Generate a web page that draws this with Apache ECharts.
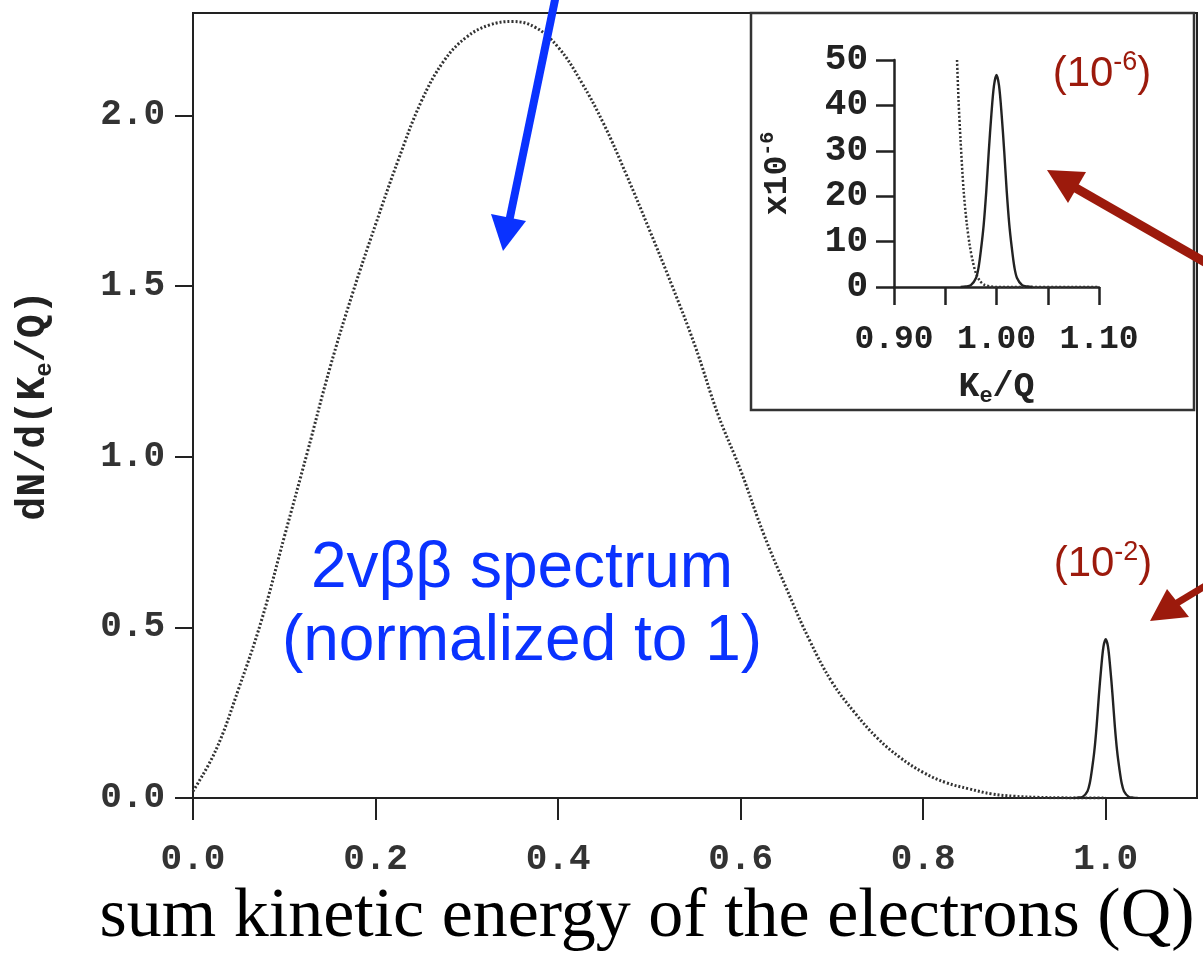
<!DOCTYPE html>
<html>
<head>
<meta charset="utf-8">
<script src="https://cdn.jsdelivr.net/npm/echarts@6/dist/echarts.min.js"></script>
<style>
html,body{margin:0;padding:0;background:#fff;}
#chart{width:1203px;height:953px;}
</style>
</head>
<body>
<div id="chart"></div>
<script>
// ---- data ----
const xTicks = [0, 0.2, 0.4, 0.6, 0.8, 1.0];
const yTicks = [0, 0.5, 1.0, 1.5, 2.0];
const insetXTicks = [0.90, 0.95, 1.00, 1.05, 1.10];
const insetXLabels = [0.90, 1.00, 1.10];

// 2-neutrino double beta spectrum (dotted curve)
const kinetic = [0.000, 0.025, 0.050, 0.075, 0.100, 0.125, 0.150, 0.175, 0.200, 0.225,
                 0.250, 0.275, 0.300, 0.325, 0.350, 0.375, 0.400, 0.425, 0.450, 0.475,
                 0.500, 0.525, 0.550, 0.575, 0.600, 0.625, 0.650, 0.675, 0.700, 0.725,
                 0.750, 0.775, 0.800, 0.825, 0.850, 0.875, 0.900, 0.925, 0.950, 0.975, 1.000];
const spectrum2nu = [0.02, 0.14, 0.32, 0.52, 0.765, 1.01, 1.26, 1.48, 1.68, 1.87,
                     2.04, 2.16, 2.23, 2.265, 2.275, 2.258, 2.20, 2.10, 1.975, 1.825,
                     1.665, 1.50, 1.325, 1.125, 0.96, 0.775, 0.615, 0.465, 0.34, 0.25,
                     0.175, 0.118, 0.075, 0.045, 0.027, 0.012, 0.005, 0.002, 0.0006, 0.0001, 0];

// 0-neutrino peak (solid curve)
const peakK = [0.965, 0.970, 0.975, 0.980, 0.9825, 0.985, 0.9875, 0.990, 0.9925, 0.995, 0.9975,
               1.000, 1.0025, 1.005, 1.0075, 1.010, 1.0125, 1.015, 1.0175, 1.020, 1.025, 1.030, 1.035];
const peakMain = [0, 0.001, 0.004, 0.02, 0.043, 0.085, 0.137, 0.21, 0.30, 0.38, 0.443,
                  0.465, 0.443, 0.38, 0.30, 0.21, 0.137, 0.085, 0.043, 0.02, 0.004, 0.001, 0];
const peakInset = [0, 0.1, 0.4, 2, 4.3, 8.5, 13.7, 21, 30, 38, 44.3,
                   46.7, 44.3, 38, 30, 21, 13.7, 8.5, 4.3, 2, 0.4, 0.1, 0];

// endpoint tail of the 2-neutrino spectrum in the inset (x10^-6)
const insetTailK = [0.9615, 0.963, 0.965, 0.968, 0.971, 0.974, 0.977, 0.980, 0.984, 0.988, 0.995, 1.000, 1.100];
const insetTail  = [50, 41, 32, 21, 14, 9, 5.5, 3, 1.3, 0.5, 0.1, 0, 0];

// ---- chart ----
const zip = (a, b) => a.map((v, i) => [v, b[i]]);
const mono = 'Liberation Mono';
const blue = '#0a32ff';
const red = '#9c1a0c';

const chart = echarts.init(document.getElementById('chart'), null, {renderer: 'canvas'});

const option = {
  backgroundColor: '#fff',
  animation: false,
  grid: [
    {left: 193, top: 13, width: 1004, height: 785, show: true, borderColor: '#222', borderWidth: 2, backgroundColor: 'transparent',
     containLabel: false, outerBoundsMode: 'none'},
    {left: 894, top: 60, width: 205, height: 227, containLabel: false, outerBoundsMode: 'none'}
  ],
  xAxis: [
    {
      type: 'value', gridIndex: 0, min: 0, max: 1.1, interval: 0.2,
      name: 'sum kinetic energy of the electrons (Q)',
      nameLocation: 'middle', nameGap: 84,
      nameTextStyle: {fontFamily: 'Liberation Serif', fontSize: 70, color: '#000', padding: [0, 96, 0, 0]},
      axisLine: {show: true, lineStyle: {color: '#222', width: 2}},
      axisTick: {show: true, length: 22, customValues: xTicks, lineStyle: {color: '#222', width: 2}},
      axisLabel: {customValues: xTicks, margin: 44, fontFamily: mono, fontWeight: 'bold', fontSize: 36, color: '#333',
                  formatter: v => v.toFixed(1)},
      splitLine: {show: false}
    },
    {
      type: 'value', gridIndex: 1, min: 0.9, max: 1.1, interval: 0.05,
      name: 'K{s|e}/Q', nameLocation: 'middle', nameGap: 80,
      nameTextStyle: {fontFamily: mono, fontWeight: 'bold', fontSize: 35, color: '#222', lineHeight: 40,
                      rich: {s: {fontSize: 22, verticalAlign: 'bottom', lineHeight: 40}}},
      axisLine: {show: true, onZero: false, lineStyle: {color: '#222', width: 2.5}},
      axisTick: {show: true, length: 18, customValues: insetXTicks, lineStyle: {color: '#222', width: 2.5}},
      axisLabel: {customValues: insetXLabels, margin: 36, fontFamily: mono, fontWeight: 'bold', fontSize: 33, color: '#222',
                  formatter: v => v.toFixed(2)},
      splitLine: {show: false}
    }
  ],
  yAxis: [
    {
      type: 'value', gridIndex: 0, min: 0, max: 2.3, interval: 0.5,
      name: 'dN/d(K{s|e}/Q)', nameLocation: 'middle', nameGap: 136, nameRotate: 90,
      nameTextStyle: {fontFamily: mono, fontWeight: 'bold', fontSize: 40, color: '#222', lineHeight: 46,
                      rich: {s: {fontSize: 24, verticalAlign: 'bottom', lineHeight: 46}}},
      axisLine: {show: true, lineStyle: {color: '#222', width: 2}},
      axisTick: {show: true, length: 18, customValues: yTicks, lineStyle: {color: '#222', width: 2}},
      axisLabel: {customValues: yTicks, margin: 28, fontFamily: mono, fontWeight: 'bold', fontSize: 36, color: '#333',
                  formatter: v => v.toFixed(1)},
      splitLine: {show: false}
    },
    {
      type: 'value', gridIndex: 1, min: 0, max: 50, interval: 10,
      name: 'x10{p|-6}', nameLocation: 'middle', nameGap: 96, nameRotate: 90,
      nameTextStyle: {fontFamily: mono, fontWeight: 'bold', fontSize: 33, color: '#222', lineHeight: 40,
                      rich: {p: {fontSize: 20, verticalAlign: 'top', lineHeight: 40}}},
      axisLine: {show: true, onZero: false, lineStyle: {color: '#222', width: 2.5}},
      axisTick: {show: true, length: 18, lineStyle: {color: '#222', width: 2.5}},
      axisLabel: {margin: 26, fontFamily: mono, fontWeight: 'bold', fontSize: 36, color: '#222'},
      splitLine: {show: false}
    }
  ],
  series: [
    {
      name: '2vbb', type: 'line', xAxisIndex: 0, yAxisIndex: 0, data: zip(kinetic, spectrum2nu),
      smooth: 0.4, showSymbol: false, lineStyle: {color: '#333', width: 3, type: [2, 2]}, z: 3
    },
    {
      name: '0vbb', type: 'line', xAxisIndex: 0, yAxisIndex: 0, data: zip(peakK, peakMain),
      smooth: 0.3, showSymbol: false, lineStyle: {color: '#222', width: 2.4}, z: 3
    },
    {
      name: '2vbb inset', type: 'line', xAxisIndex: 1, yAxisIndex: 1, data: zip(insetTailK, insetTail),
      smooth: 0.3, showSymbol: false, lineStyle: {color: '#333', width: 2.5, type: [2, 2]}, z: 3
    },
    {
      name: '0vbb inset', type: 'line', xAxisIndex: 1, yAxisIndex: 1, data: zip(peakK, peakInset),
      smooth: 0.3, showSymbol: false, lineStyle: {color: '#222', width: 2.4}, z: 3
    }
  ],
  graphic: [
    // inset frame
    {type: 'rect', shape: {x: 751, y: 13, width: 443, height: 397}, style: {fill: 'transparent', stroke: '#333', lineWidth: 2.5}, z: 10},
    // blue arrow
    {type: 'line', shape: {x1: 556, y1: -5, x2: 509, y2: 222}, style: {stroke: blue, lineWidth: 8}, z: 20},
    {type: 'polygon', shape: {points: [[503, 251], [491, 214], [526, 221]]}, style: {fill: blue}, z: 20},
    // red arrow to inset
    {type: 'line', shape: {x1: 1210, y1: 265, x2: 1074, y2: 187}, style: {stroke: red, lineWidth: 9}, z: 20},
    {type: 'polygon', shape: {points: [[1047, 170], [1086, 172], [1068, 203]]}, style: {fill: red}, z: 20},
    // red arrow to main peak
    {type: 'line', shape: {x1: 1210, y1: 583, x2: 1172, y2: 606}, style: {stroke: red, lineWidth: 7}, z: 20},
    {type: 'polygon', shape: {points: [[1150, 621], [1167, 589], [1189, 617]]}, style: {fill: red}, z: 20},
    // texts
    {type: 'text', x: 522, y: 606, z: 20,
     style: {text: '2vββ spectrum\n(normalized to 1)', fill: blue, font: '64px "Liberation Sans"', align: 'center', verticalAlign: 'middle', lineHeight: 73}},
    {type: 'text', x: 1102, y: 74, z: 20,
     style: {text: '(10{p|-6})', fill: red, font: '42px "Liberation Sans"', align: 'center', verticalAlign: 'middle', lineHeight: 50,
             rich: {p: {fontSize: 27, verticalAlign: 'top', lineHeight: 50, fill: red}}}},
    {type: 'text', x: 1103, y: 564, z: 20,
     style: {text: '(10{p|-2})', fill: red, font: '42px "Liberation Sans"', align: 'center', verticalAlign: 'middle', lineHeight: 50,
             rich: {p: {fontSize: 27, verticalAlign: 'top', lineHeight: 50, fill: red}}}}
  ]
};
chart.setOption(option);
</script>
</body>
</html>
